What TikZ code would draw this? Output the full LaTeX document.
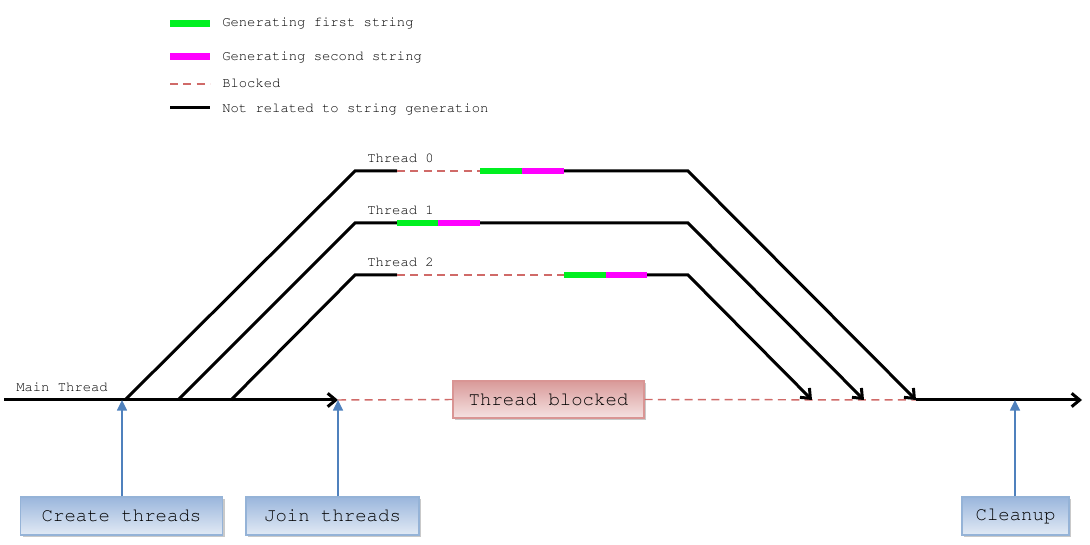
\documentclass[tikz,border=0pt]{standalone}
\usepackage{tikz}
\usetikzlibrary{arrows.meta,shadows}
\newcommand{\courierfont}[1]{\fontencoding{T1}\fontfamily{pcr}\fontsize{#1}{#1}\selectfont}
\definecolor{gengreen}{HTML}{00F020}
\definecolor{genmagenta}{HTML}{FF00FF}
\definecolor{blockred}{HTML}{D06A68}
\definecolor{callblue}{HTML}{4F81BD}
\definecolor{boxblueline}{HTML}{95B3D7}
\definecolor{boxbluetop}{HTML}{9AB6DC}
\definecolor{boxbluebot}{HTML}{E2EAF5}
\definecolor{boxredline}{HTML}{D99594}
\definecolor{boxredtop}{HTML}{D99A99}
\definecolor{boxredbot}{HTML}{F5E2E2}
\tikzset{
    work/.style={line width=2.25pt,black},
    first/.style={line width=5pt,gengreen},
    second/.style={line width=5pt,genmagenta},
    blocked/.style={line width=1.1pt,blockred,dash pattern=on 6pt off 4pt},
    barb/.style={-{Straight Barb[length=6pt,width=10pt]}},
    call/.style={line width=1.1pt,callblue,-{Triangle[length=8pt,width=7.5pt]}},
    smalltext/.style={inner sep=0pt,anchor=base west,font=\courierfont{10.4}},
    callbox/.style={draw=boxblueline,line width=0.9pt,top color=boxbluetop,bottom color=boxbluebot,
        minimum height=28.5pt,inner sep=0pt,font=\courierfont{14.25},
        drop shadow={shadow xshift=1.5pt,shadow yshift=-1.5pt,fill=black!30,opacity=0.7}},
    waitbox/.style={draw=boxredline,line width=0.9pt,top color=boxredtop,bottom color=boxredbot,
        minimum height=27.75pt,minimum width=143.25pt,inner sep=0pt,font=\courierfont{14.25},
        drop shadow={shadow xshift=1.5pt,shadow yshift=-1.5pt,fill=black!30,opacity=0.7}}
}
\begin{document}
\begin{tikzpicture}[x=0.75pt,y=0.75pt,yscale=-1,xscale=1]
\useasboundingbox (0,0) rectangle (1090,545);

%Legend
\draw [first]   (170,23.5) -- (210,23.5) ;
\draw [second]  (170,56.5) -- (210,56.5) ;
\draw [blocked] (170,84) -- (210,84) ;
\draw [work]    (170,108) -- (210,108) ;
% Text Node
\node (lgfirst)   [smalltext] at (222,27)  {Generating first string};
% Text Node
\node (lgsecond)  [smalltext] at (222,61)  {Generating second string};
% Text Node
\node (lgblocked) [smalltext] at (222,88)  {Blocked};
% Text Node
\node (lgother)   [smalltext] at (222,113) {Not related to string generation};

%Points on the main thread
\coordinate (mstart) at (4,400);
\coordinate (fork0) at (125,400);
\coordinate (fork1) at (178,400);
\coordinate (fork2) at (231,400);
\coordinate (joinpt) at (338,400);
\coordinate (end2) at (812,400);
\coordinate (end1) at (864,400);
\coordinate (end0) at (916,400);
\coordinate (mend) at (1082,400);
\coordinate (creatept) at (122,400);
\coordinate (cleanpt) at (1015,400);

%Points on thread 0
\coordinate (t0a) at (355,171);
\coordinate (t0b) at (397,171);
\coordinate (t0c) at (480,171);
\coordinate (t0d) at (522,171);
\coordinate (t0e) at (564,171);
\coordinate (t0f) at (688,171);
%Points on thread 1
\coordinate (t1a) at (355,223);
\coordinate (t1b) at (397,223);
\coordinate (t1d) at (438,223);
\coordinate (t1e) at (480,223);
\coordinate (t1f) at (688,223);
%Points on thread 2
\coordinate (t2a) at (355,275);
\coordinate (t2b) at (397,275);
\coordinate (t2c) at (564,275);
\coordinate (t2d) at (606,275);
\coordinate (t2e) at (647,275);
\coordinate (t2f) at (688,275);

%Shape: blocked main thread
\node (waitbox) [waitbox] at (548.5,399.5) {Thread blocked};
\draw [blocked] (joinpt) -- (waitbox.west) ;
\draw [blocked] (waitbox.east) -- (end0) ;
%Straight Lines: main thread
\draw [work,barb] (mstart) -- (joinpt) ;
\draw [work,barb] (end0) -- (mend) ;
% Text Node
\node (mainlabel) [smalltext] at (16,392) {Main Thread};

%Thread 0
\draw [work] (fork0) -- (t0a) -- (t0b) ;
\draw [blocked] (t0b) -- (t0c) ;
\draw [first] (t0c) -- (t0d) ;
\draw [second] (t0d) -- (t0e) ;
\draw [work,barb] (t0e) -- (t0f) -- (end0) ;
% Text Node
\node (label0) [smalltext] at (367,163) {Thread 0};

%Thread 1
\draw [work] (fork1) -- (t1a) -- (t1b) ;
\draw [first] (t1b) -- (t1d) ;
\draw [second] (t1d) -- (t1e) ;
\draw [work,barb] (t1e) -- (t1f) -- (end1) ;
% Text Node
\node (label1) [smalltext] at (367,215) {Thread 1};

%Thread 2
\draw [work] (fork2) -- (t2a) -- (t2b) ;
\draw [blocked] (t2b) -- (t2c) ;
\draw [first] (t2c) -- (t2d) ;
\draw [second] (t2d) -- (t2e) ;
\draw [work,barb] (t2e) -- (t2f) -- (end2) ;
% Text Node
\node (label2) [smalltext] at (367,267) {Thread 2};

%Shape: call boxes
\node (create)  [callbox,minimum width=151.5pt]  at (121.5,516) {Create threads};
\node (join)    [callbox,minimum width=129.75pt] at (332.5,516) {Join threads};
\node (cleanup) [callbox,minimum width=80.25pt]  at (1015.5,516) {Cleanup};
%Straight Lines: calls
\draw [call] (create.north -| creatept) -- (creatept) ;
\draw [call] (join.north -| joinpt) -- (joinpt) ;
\draw [call] (cleanup.north -| cleanpt) -- (cleanpt) ;

\end{tikzpicture}
\end{document}
